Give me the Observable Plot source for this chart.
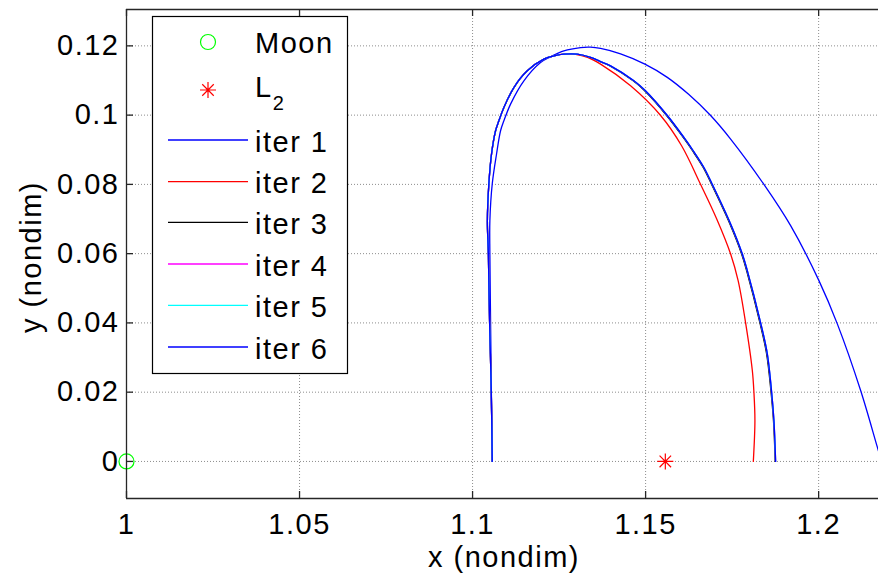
<!DOCTYPE html>
<html><head><meta charset="utf-8">
<script src="https://cdn.jsdelivr.net/npm/d3@7"></script>
<script src="https://cdn.jsdelivr.net/npm/@observablehq/plot@0.6"></script>
<style>html,body{margin:0;padding:0;background:#fff;}</style>
</head><body><div id="chart"></div>
<script>
// ---- data ----
const xTicks = [1, 1.05, 1.1, 1.15, 1.2];
const xTickLabels = ["1", "1.05", "1.1", "1.15", "1.2"];
const yTicks = [0, 0.02, 0.04, 0.06, 0.08, 0.1, 0.12];
const yTickLabels = ["0", "0.02", "0.04", "0.06", "0.08", "0.1", "0.12"];
const xDomain = [1, 1.2173];
const yDomain = [-0.0107, 0.1305];
const xLabel = "x (nondim)";
const yLabel = "y (nondim)";
const legendNames = ["Moon", "L", "iter 1", "iter 2", "iter 3", "iter 4", "iter 5", "iter 6"];
const seriesColors = ["#0000ff", "#ff0000", "#000000", "#ff00ff", "#00ffff", "#0000ff"];
const moon = [{x: 1.0, y: 0}];
const l2 = [{x: 1.1557, y: 0}];

const iter1x = [1.10569,1.10543,1.10520,1.10500,1.10500,1.10569,1.10694,1.10809,1.10905,1.11098,1.11483,1.11965,1.12254,1.12639,1.13121,1.13410,1.13699,1.14277,1.14980,1.15627,1.16243,1.16879,1.17457,1.18419,1.19191,1.20009,1.20540,1.21214,1.21697,1.21821];
const iter1y = [0,0.02048,0.04067,0.06000,0.06952,0.08019,0.08885,0.09548,0.09836,0.10318,0.10990,0.11518,0.11683,0.11856,0.11951,0.11962,0.11925,0.11769,0.11472,0.11091,0.10601,0.09989,0.09309,0.07999,0.06808,0.05221,0.03972,0.02048,0.00412,0];

const iter2x = [1.10569,1.10540,1.10491,1.10457,1.10428,1.10471,1.10549,1.10665,1.10760,1.10905,1.11194,1.11581,1.12061,1.12448,1.12639,1.12977,1.13324,1.13699,1.14566,1.15434,1.16040,1.16590,1.17052,1.17457,1.17674,1.17890,1.18084,1.18130,1.18159,1.18113];
const iter2y = [0,0.02048,0.04067,0.06000,0.06952,0.08019,0.08885,0.09548,0.09836,0.10220,0.10797,0.11279,0.11616,0.11732,0.11761,0.11755,0.11668,0.11472,0.10846,0.09989,0.09115,0.07999,0.07010,0.05991,0.05221,0.04001,0.02625,0.01999,0.01183,0];

const iter3x = [1.10569,1.10540,1.10491,1.10457,1.10428,1.10471,1.10549,1.10665,1.10760,1.10905,1.11194,1.11581,1.12061,1.12448,1.12639,1.13020,1.13400,1.13685,1.13970,1.14642,1.14960,1.15607,1.16087,1.16356,1.16665,1.16908,1.17437,1.17775,1.17919,1.18304,1.18497,1.18625,1.18695,1.18745];
const iter3y = [0,0.02048,0.04067,0.06000,0.06952,0.08019,0.08885,0.09548,0.09836,0.10220,0.10797,0.11279,0.11616,0.11732,0.11761,0.11761,0.11668,0.11547,0.11423,0.10990,0.10716,0.09989,0.09355,0.08971,0.08489,0.07999,0.06857,0.05991,0.05510,0.04001,0.03107,0.01999,0.01183,0];

const iter6x = [1.10569,1.10540,1.10491,1.10457,1.10428,1.10471,1.10549,1.10665,1.10760,1.10905,1.11194,1.11581,1.12061,1.12448,1.12639,1.13026,1.13410,1.13699,1.13988,1.14662,1.14980,1.15627,1.16107,1.16376,1.16685,1.16928,1.17457,1.17795,1.17939,1.18324,1.18517,1.18642,1.18708,1.18757];
const iter6y = [0,0.02048,0.04067,0.06000,0.06952,0.08019,0.08885,0.09548,0.09836,0.10220,0.10797,0.11279,0.11616,0.11732,0.11761,0.11761,0.11668,0.11547,0.11423,0.10990,0.10716,0.09989,0.09355,0.08971,0.08489,0.07999,0.06857,0.05991,0.05510,0.04001,0.03107,0.01999,0.01183,0];
// iterations 4 and 5 coincide with iteration 6 in the picture
const iter4x = iter6x, iter4y = iter6y;
const iter5x = iter6x, iter5y = iter6y;

// ---- build ----
const seriesX = [iter1x, iter2x, iter3x, iter4x, iter5x, iter6x];
const seriesY = [iter1y, iter2y, iter3y, iter4y, iter5y, iter6y];
const rows = seriesX.flatMap((xs, k) => xs.map((x, i) => ({x, y: seriesY[k][i], k})));

const W = 878, H = 579;
const mL = 126, mR = 0, mT = 9, mB = 81;
const innerW = W - mL - mR, innerH = H - mT - mB;
const axisColor = "#262626";

const asterisk8 = {
  draw(ctx, size) {
    const r = Math.sqrt(size / Math.PI), d = r * 0.72;
    ctx.moveTo(-r, 0); ctx.lineTo(r, 0);
    ctx.moveTo(0, -r); ctx.lineTo(0, r);
    ctx.moveTo(-d, -d); ctx.lineTo(d, d);
    ctx.moveTo(-d, d); ctx.lineTo(d, -d);
  }
};

const fmt = (ticks, labels) => d => labels[ticks.indexOf(d)];

const plot = Plot.plot({
  width: W, height: H,
  marginLeft: mL, marginRight: mR, marginTop: mT, marginBottom: mB,
  style: {fontFamily: "'Liberation Sans', Arial, Helvetica, sans-serif", fontSize: "29px", letterSpacing: "1.5px", color: "#000", background: "#fff", overflow: "visible"},
  x: {domain: xDomain, axis: null},
  y: {domain: yDomain, axis: null},
  marks: [
    Plot.gridX(xTicks, {stroke: "#000", strokeOpacity: 0.45, strokeDasharray: "1,2"}),
    Plot.gridY(yTicks, {stroke: "#000", strokeOpacity: 0.45, strokeDasharray: "1,2"}),
    ...seriesColors.map((c, k) => Plot.line(rows.filter(r => r.k === k), {x: "x", y: "y", stroke: c, strokeWidth: 1.3, curve: "catmull-rom", clip: true})),
    Plot.dot(moon, {x: "x", y: "y", r: 7.5, stroke: "#00ff00", fill: "none", strokeWidth: 1.2}),
    Plot.dot(l2, {x: "x", y: "y", r: 8, symbol: asterisk8, stroke: "#ff0000", fill: "none", strokeWidth: 1.2}),
    Plot.ruleX([xDomain[0]], {stroke: axisColor, strokeWidth: 1.3}),
    Plot.ruleY([yDomain[0]], {stroke: axisColor, strokeWidth: 1.3}),
    Plot.ruleY([yDomain[1]], {stroke: axisColor, strokeWidth: 1.3}),
    Plot.tickX(xTicks, {x: d => d, insetTop: innerH - 7, stroke: axisColor, strokeWidth: 1.3}),
    Plot.tickX(xTicks, {x: d => d, insetBottom: innerH - 7, stroke: axisColor, strokeWidth: 1.3}),
    Plot.tickY(yTicks, {y: d => d, insetRight: innerW - 7, stroke: axisColor, strokeWidth: 1.3}),
    Plot.axisX(xTicks, {anchor: "bottom", tickSize: 0, tickPadding: 15, tickFormat: fmt(xTicks, xTickLabels), label: null, fill: "#000"}),
    Plot.axisY(yTicks, {anchor: "left", tickSize: 0, tickPadding: 7, tickFormat: fmt(yTicks, yTickLabels), label: null, fill: "#000"})
  ]
});

const svg = d3.select(plot);
svg.append("text").attr("x", 504).attr("y", 567).attr("text-anchor", "middle").attr("fill", "#000").text(xLabel);
svg.append("text").attr("transform", "translate(41,257) rotate(-90)").attr("text-anchor", "middle").attr("fill", "#000").text(yLabel);

// legend
const lg = svg.append("g").attr("text-anchor", "start");
lg.append("rect").attr("x", 152.5).attr("y", 16.5).attr("width", 195).attr("height", 357)
  .attr("fill", "#fff").attr("stroke", "#000").attr("stroke-width", 1.2);
const tx = 255, mx = 208, l1 = 168, l2x = 248;
lg.append("circle").attr("cx", mx).attr("cy", 42).attr("r", 7.5).attr("fill", "none").attr("stroke", "#00ff00").attr("stroke-width", 1.2);
lg.append("text").attr("x", tx).attr("y", 53).attr("text-anchor", "start").attr("fill", "#000").text(legendNames[0]);
lg.append("path").attr("transform", `translate(${mx},90)`).attr("d", d3.symbol(asterisk8, Math.PI * 64)()).attr("fill", "none").attr("stroke", "#ff0000").attr("stroke-width", 1.2);
const t2 = lg.append("text").attr("x", tx).attr("y", 97).attr("text-anchor", "start").attr("fill", "#000");
t2.append("tspan").text(legendNames[1]);
t2.append("tspan").attr("dy", 13).attr("font-size", "20px").text("2");
const rowY = [140, 181.7, 222.3, 264, 305.3, 347];
seriesColors.forEach((c, k) => {
  lg.append("line").attr("x1", l1).attr("x2", l2x).attr("y1", rowY[k]).attr("y2", rowY[k]).attr("stroke", c).attr("stroke-width", 1.3);
  lg.append("text").attr("x", tx).attr("y", rowY[k] + 11.5).attr("text-anchor", "start").attr("fill", "#000").text(legendNames[k + 2]);
});

document.getElementById("chart").appendChild(plot);
</script>
</body></html>
